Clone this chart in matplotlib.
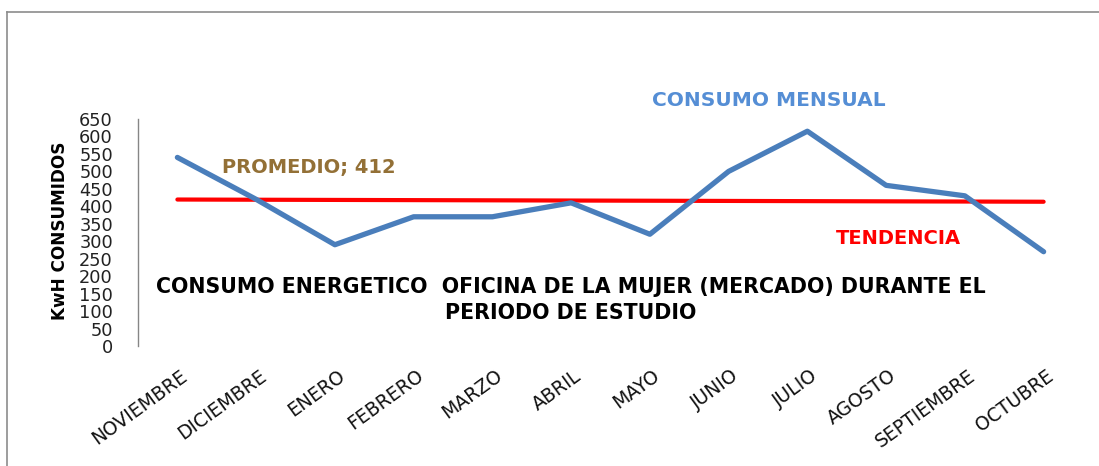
import matplotlib
matplotlib.use("Agg")
import matplotlib.pyplot as plt
from matplotlib.lines import Line2D
from matplotlib.transforms import ScaledTranslation
import numpy as np

months = ["NOVIEMBRE", "DICIEMBRE", "ENERO", "FEBRERO", "MARZO", "ABRIL",
          "MAYO", "JUNIO", "JULIO", "AGOSTO", "SEPTIEMBRE", "OCTUBRE"]
consumo = [540, 420, 290, 370, 370, 410, 320, 500, 615, 460, 430, 270]
promedio = 412
y_ticks = list(range(0, 651, 50))

plt.rcParams['font.family'] = ['DejaVu Sans']

W, H = 1099, 466
fig = plt.figure(figsize=(W / 100, H / 100), dpi=100)

ax = fig.add_axes([138 / W, 120 / H, (1083 - 138) / W, (347 - 120) / H])

x = np.arange(len(months))
ax.plot(x, consumo, color='#4A7EBB', lw=3.8, solid_joinstyle='round',
        solid_capstyle='round', zorder=3)

# linear trend line (as the spreadsheet trendline)
coef = np.polyfit(x, consumo, 1)
trend = np.polyval(coef, x)
ax.plot(x, trend, color='#FF0000', lw=3.0, solid_capstyle='round', zorder=2)

ax.set_xlim(-0.5, len(months) - 0.5)
ax.set_ylim(0, 650)
ax.set_yticks(y_ticks)
ax.set_yticklabels([str(v) for v in y_ticks], fontsize=12.8, color='#222222')
ax.tick_params(axis='y', length=0, pad=18)

ax.set_xticks(x)
ax.set_xticklabels(months, fontsize=13.5, rotation=36, ha='right', va='center',
                   rotation_mode='anchor', color='#111111')
ax.tick_params(axis='x', length=0, pad=20)
shift = ScaledTranslation(8 / 100, 0, fig.dpi_scale_trans)
for lbl in ax.get_xticklabels():
    lbl.set_transform(lbl.get_transform() + shift)

for s in ['top', 'right', 'bottom']:
    ax.spines[s].set_visible(False)
ax.spines['left'].set_color('#868686')
ax.spines['left'].set_linewidth(1.0)

# annotations
fig.text(769 / W, (H - 101) / H, "CONSUMO MENSUAL", color='#558ED5',
         fontsize=14.5, fontweight='bold', ha='center', va='center')
fig.text(309 / W, (H - 168) / H, f"PROMEDIO; {promedio}", color='#937036',
         fontsize=14, fontweight='bold', ha='center', va='center')
fig.text(898 / W, (H - 239) / H, "TENDENCIA", color='#FF0000',
         fontsize=14, fontweight='bold', ha='center', va='center')
fig.text(571 / W, (H - 300) / H,
         "CONSUMO ENERGETICO  OFICINA DE LA MUJER (MERCADO) DURANTE EL\nPERIODO DE ESTUDIO",
         color='#000000', fontsize=14.8, fontweight='bold', ha='center',
         va='center', linespacing=1.38)

fig.text(60 / W, (H - 231) / H, "KwH CONSUMIDOS", rotation=90, fontsize=12.2,
         fontweight='bold', ha='center', va='center', color='#000000')

# chart frame (top and left edges visible)
fig.add_artist(Line2D([7 / W, 1.0], [(H - 12) / H, (H - 12) / H],
                      transform=fig.transFigure, color='#8C8C8C', lw=1.2))
fig.add_artist(Line2D([7 / W, 7 / W], [(H - 12) / H, 0],
                      transform=fig.transFigure, color='#8C8C8C', lw=1.2))

fig.savefig("out.png", dpi=100)
